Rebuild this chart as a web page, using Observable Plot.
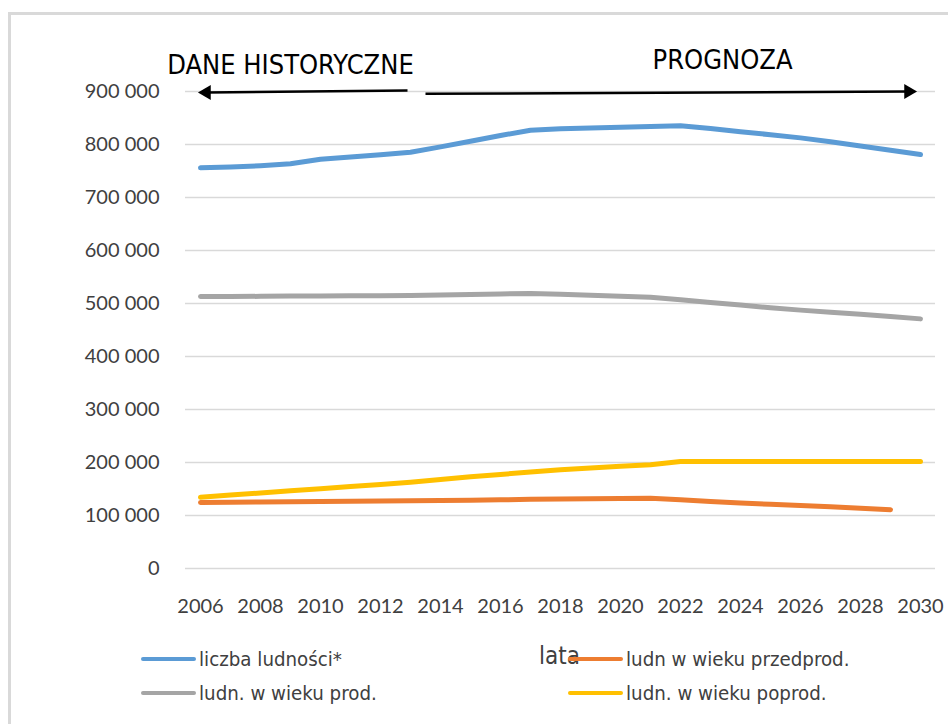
<!DOCTYPE html>
<html>
<head>
<meta charset="utf-8">
<script src="https://cdn.jsdelivr.net/npm/d3@7"></script>
<script src="https://cdn.jsdelivr.net/npm/@observablehq/plot@0.6"></script>
<style>
  html, body { margin: 0; padding: 0; background: #fff; overflow: hidden; }
  #wrap { position: relative; width: 948px; height: 724px; overflow: hidden; font-family: Lato, "Open Sans", sans-serif; }
  #frame { position: absolute; left: 8px; top: 12px; width: 1000px; height: 800px; border: 3px solid #d9d9d9; box-sizing: border-box; }
  #chart { position: absolute; left: 0; top: 0; }
  .leg { position: absolute; display: flex; align-items: center; font-size: 20.3px; color: #404040; white-space: nowrap; height: 26px;
         font-family: "Liberation Sans Narrow", "DejaVu Sans Condensed", Lato, sans-serif; }
  .sw { width: 55px; height: 4px; border-radius: 2px; margin-right: 3px; position: relative; z-index: 2; }
  #xlabel { position: absolute; left: 539px; top: 642px; font-size: 24px; line-height: 28px; color: #404040; z-index: 1;
            font-family: "DejaVu Sans Condensed", Lato, sans-serif; }
</style>
</head>
<body>
<div id="wrap">
  <div id="frame"></div>
  <div id="chart"></div>
  <div id="xlabel">lata</div>
</div>
<script>
// ---- data ----
const years = [2006, 2007, 2008, 2009, 2010, 2011, 2012, 2013, 2014, 2015, 2016, 2017, 2018,
               2019, 2020, 2021, 2022, 2023, 2024, 2025, 2026, 2027, 2028, 2029, 2030];
const seriesNames = ["liczba ludności*", "ludn w wieku przedprod.", "ludn. w wieku prod.", "ludn. w wieku poprod."];
const seriesColors = ["#5b9bd5", "#ed7d31", "#a5a5a5", "#ffc000"];
const liczbaLudnosci = [756000, 757500, 760000, 763500, 772000, 776500, 780500, 785500, 795500, 806000, 817000, 827000, 829500,
                        831000, 832500, 834000, 835500, 830000, 824000, 818500, 812500, 805000, 797000, 789000, 781000];
const przedprod = [124500, 125000, 125500, 126000, 126500, 127000, 127500, 128000, 128500, 129000, 129500, 130500, 131000,
                   131500, 132000, 132500, 129500, 126500, 123500, 121000, 119000, 116500, 113500, 111000];
const prod = [513000, 513200, 513500, 514000, 514300, 514500, 514800, 515000, 516000, 517000, 518000, 519000, 517500,
              515500, 513500, 512000, 507000, 502000, 497000, 492000, 487500, 483500, 479500, 475500, 471000];
const poprod = [134500, 138500, 142500, 146500, 150500, 154500, 158500, 162800, 168000, 173000, 177500, 182000, 186500,
                189800, 192800, 195600, 202000, 202000, 202000, 202000, 202000, 202000, 202000, 202000, 202000];
const xTicks = [2006, 2008, 2010, 2012, 2014, 2016, 2018, 2020, 2022, 2024, 2026, 2028, 2030];
const yTicks = [0, 100000, 200000, 300000, 400000, 500000, 600000, 700000, 800000, 900000];
// annotations (data coordinates)
const annoTexts = ["DANE HISTORYCZNE", "PROGNOZA"];
const annoTextX = [2009.0, 2023.4];
const annoTextY = [949000, 958500];
const arrowX1 = [2012.9, 2013.5];
const arrowY1 = [901900, 895700];
const arrowX2 = [2006.2, 2029.6];
const arrowY2 = [898100, 900000];
const arrowRotate = [-90, 90];

// ---- build table ----
const seriesValues = [liczbaLudnosci, przedprod, prod, poprod];
const rows = [];
seriesValues.forEach((vals, s) => vals.forEach((v, i) => rows.push({year: years[i], value: v, series: seriesNames[s]})));
const arrows = arrowX1.map((x, i) => ({x1: x, y1: arrowY1[i], x2: arrowX2[i], y2: arrowY2[i], rot: arrowRotate[i]}));
const texts = annoTexts.map((t, i) => ({t, x: annoTextX[i], y: annoTextY[i]}));

const fmt = d => d === 0 ? "0" : d3.format(",")(d).replace(/,/g, " ");

const chart = Plot.plot({
  width: 948,
  height: 630,
  marginLeft: 185,
  marginRight: 13,
  marginTop: 91,
  marginBottom: 62,
  style: {fontFamily: "Lato, 'Open Sans', sans-serif", fontSize: "20px", color: "#404040", background: "transparent", overflow: "visible"},
  x: {domain: [2005.5, 2030.5], ticks: xTicks, tickFormat: d => String(d), tickSize: 0, tickPadding: 30, label: null},
  y: {domain: [0, 900000], ticks: yTicks, tickFormat: fmt, tickSize: 0, tickPadding: 26, label: null},
  color: {domain: seriesNames, range: seriesColors},
  marks: [
    Plot.ruleY(yTicks, {stroke: "#d9d9d9", strokeWidth: 1.5}),
    Plot.line(rows, {x: "year", y: "value", z: "series", stroke: "series", strokeWidth: 5, strokeLinecap: "round", strokeLinejoin: "round"}),
    Plot.link(arrows, {x1: "x1", y1: "y1", x2: "x2", y2: "y2", stroke: "black", strokeWidth: 2.5}),
    Plot.dot(arrows, {x: "x2", y: "y2", symbol: "triangle", r: 5.5, fill: "black", stroke: "none", rotate: "rot"}),
    Plot.text(texts, {x: "x", y: "y", text: "t", fill: "black", fontSize: 27,
      fontFamily: "'Liberation Sans Narrow', 'DejaVu Sans Condensed', Lato, sans-serif"})
  ]
});
document.getElementById("chart").appendChild(chart);

// ---- legend ----
const legPos = [[141, 659], [568, 659], [141, 693], [568, 693]];
const wrap = document.getElementById("wrap");
seriesNames.forEach((n, i) => {
  const d = document.createElement("div");
  d.className = "leg";
  d.style.left = legPos[i][0] + "px";
  d.style.top = (legPos[i][1] - 13) + "px";
  d.innerHTML = `<span class="sw" style="background:${seriesColors[i]}"></span><span>${n}</span>`;
  wrap.appendChild(d);
});
</script>
</body>
</html>
